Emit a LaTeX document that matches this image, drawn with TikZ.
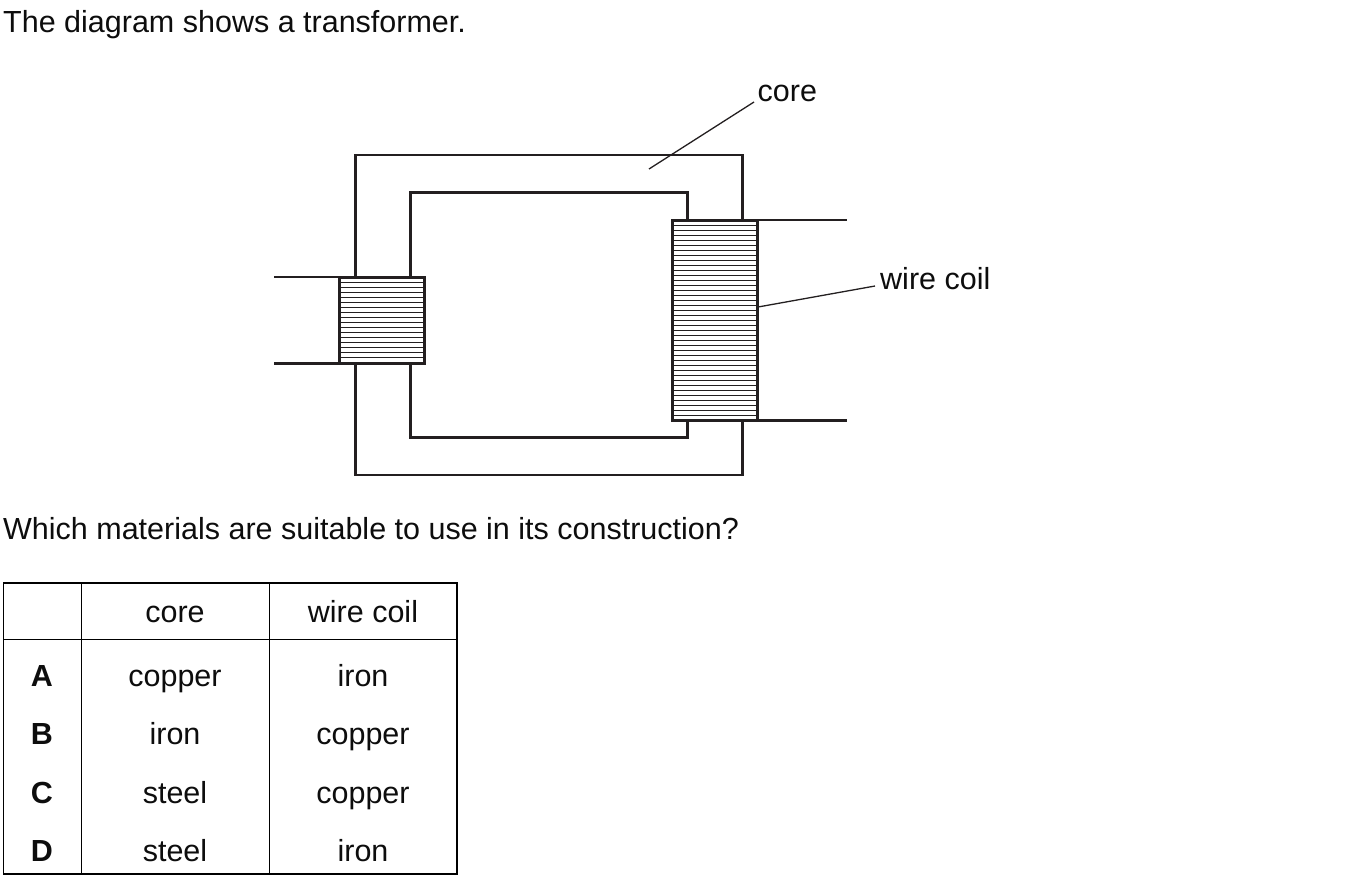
\documentclass[tikz,border=0pt]{standalone}
\usepackage{fontspec}
\setmainfont{Liberation Sans}
\definecolor{ink}{HTML}{231F20}
\tikzset{
  txt/.style={anchor=base,inner sep=0pt,font=\fontsize{30.5}{36}\selectfont,text=black!95},
  txtl/.style={txt,anchor=base west},
  bld/.style={txt,font=\fontsize{30.5}{36}\selectfont\bfseries},
  heavy/.style={draw=ink,line width=3pt},
  medium/.style={draw=ink,line width=2pt},
  hair/.style={draw=ink,line width=1.3pt},
  stripe/.style={draw=ink,line width=1.1pt},
  coil/.style={draw=ink,line width=3pt,fill=white,line join=miter},
  grid/.style={draw=black,line width=1pt},
  frame/.style={draw=black,line width=1.8pt}
}
\begin{document}
\begin{tikzpicture}[x=1pt,y=-1pt]
\useasboundingbox (0,0) rectangle (1355,884);
% texts
\node[txtl] (title) at (3,32.5) {The diagram shows a transformer.};
\node[txtl] (question) at (3,539.5) {Which materials are suitable to use in its construction?};
\node[txtl] (corelabel) at (757.5,101.5) {core};
\node[txtl] (coillabel) at (880,289) {wire coil};
% core
\draw[heavy] (355.5,277) -- (355.5,154);
\draw[heavy] (742.5,154) -- (742.5,220);
\draw[medium] (354,155) -- (744,155);
\draw[heavy] (410.5,277) -- (410.5,192.5) -- (687.5,192.5) -- (687.5,220);
\draw[heavy] (355.5,364) -- (355.5,476);
\draw[heavy] (742.5,476) -- (742.5,421);
\draw[medium] (354,475) -- (744,475);
\draw[heavy] (410.5,364) -- (410.5,437.5) -- (687.5,437.5) -- (687.5,421);
% coils
\draw[coil] (339.5,277) rectangle (424.5,363.5);
\foreach \y in {282.5,287.5,...,358} \draw[stripe] (339.5,\y) -- (424.5,\y);
\draw[coil] (672.5,220) rectangle (757.5,420.5);
\foreach \y in {225.5,230.5,...,416} \draw[stripe] (672.5,\y) -- (757.5,\y);
\coordinate (cl) at (339.5,277);
\coordinate (cb) at (339.5,363.5);
\coordinate (ct) at (757.5,220);
\coordinate (cd) at (757.5,420.5);
\coordinate (lt) at (274,277);
\coordinate (lb) at (274,363.5);
\coordinate (rt) at (847,220);
\coordinate (rb) at (847,420.5);
\draw[medium] (lt) -- (cl);
\draw[heavy] (lb) -- (cb);
\draw[medium] (ct) -- (rt);
\draw[heavy] (cd) -- (rb);
% leaders
\coordinate (c1) at (754,102);
\coordinate (c2) at (649,169);
\coordinate (w1) at (875,286);
\coordinate (w2) at (758,307);
\draw[hair] (c1) -- (c2);
\draw[hair] (w1) -- (w2);
% table
\draw[grid] (81,583) -- (81,874);
\draw[grid] (269,583) -- (269,874);
\draw[grid] (3.5,639) -- (457,639);
\draw[frame] (3.5,583) rectangle (457,874);
\node[txt] (h1) at (175,622.5) {core};
\node[txt] (h2) at (363,622.5) {wire coil};
\node[bld] (A) at (42,686.5) {A};
\node[txt] (A1) at (175,686.5) {copper};
\node[txt] (A2) at (363,686.5) {iron};
\node[bld] (B) at (42,744.5) {B};
\node[txt] (B1) at (175,744.5) {iron};
\node[txt] (B2) at (363,744.5) {copper};
\node[bld] (C) at (42,803.5) {C};
\node[txt] (C1) at (175,803.5) {steel};
\node[txt] (C2) at (363,803.5) {copper};
\node[bld] (D) at (42,861.5) {D};
\node[txt] (D1) at (175,861.5) {steel};
\node[txt] (D2) at (363,861.5) {iron};
\end{tikzpicture}
\end{document}
